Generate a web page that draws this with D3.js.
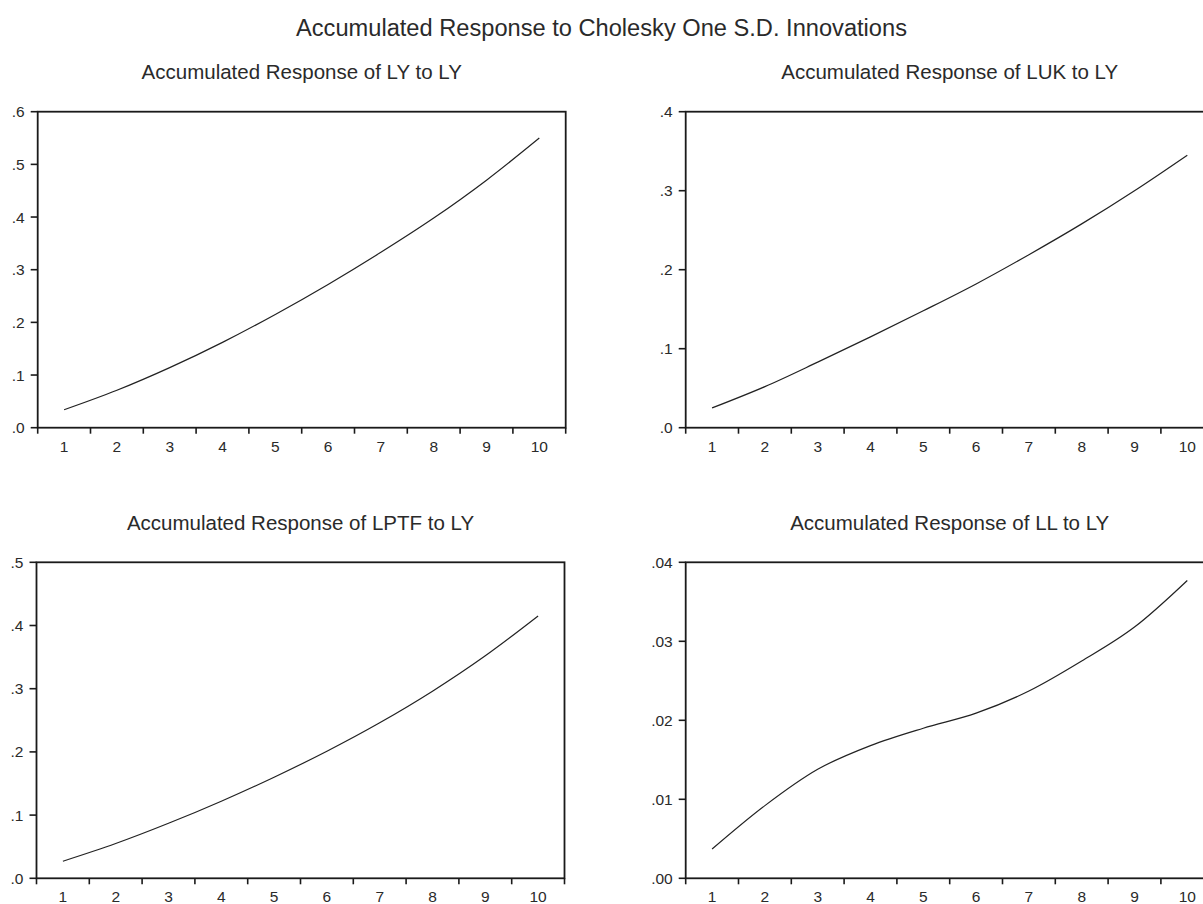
<!DOCTYPE html>
<html>
<head>
<meta charset="utf-8">
<script src="https://cdn.jsdelivr.net/npm/d3@7"></script>
<style>
  html, body { margin: 0; padding: 0; background: #fff; }
  svg { display: block; }
  text { font-family: "Liberation Sans", Arial, sans-serif; fill: #2a2a2a; }
</style>
</head>
<body>
<svg id="chart" width="1203" height="904"></svg>
<script>
// ---------- data ----------
const mainTitle = "Accumulated Response to Cholesky One S.D. Innovations";
const periods = [1, 2, 3, 4, 5, 6, 7, 8, 9, 10];

const titleLY   = "Accumulated Response of LY to LY";
const titleLUK  = "Accumulated Response of LUK to LY";
const titleLPTF = "Accumulated Response of LPTF to LY";
const titleLL   = "Accumulated Response of LL to LY";

const lyToLy   = [0.034, 0.071, 0.114, 0.162, 0.215, 0.272, 0.333, 0.398, 0.470, 0.550];
const lukToLy  = [0.025, 0.052, 0.083, 0.115, 0.148, 0.182, 0.219, 0.258, 0.300, 0.345];
const lptfToLy = [0.027, 0.055, 0.087, 0.122, 0.160, 0.201, 0.246, 0.296, 0.352, 0.415];
const llToLy   = [0.0037, 0.0092, 0.0138, 0.0168, 0.0190, 0.0209, 0.0237, 0.0275, 0.0318, 0.0377];

const ticksLY   = [0, 0.1, 0.2, 0.3, 0.4, 0.5, 0.6];
const ticksLUK  = [0, 0.1, 0.2, 0.3, 0.4];
const ticksLPTF = [0, 0.1, 0.2, 0.3, 0.4, 0.5];
const ticksLL   = [0, 0.01, 0.02, 0.03, 0.04];

// ---------- layout ----------
const panelW = 528, panelH = 316;
const panels = [
  { title: titleLY,   values: lyToLy,   ticks: ticksLY,   dec: 1, left: 37.7,  top: 111.7 },
  { title: titleLUK,  values: lukToLy,  ticks: ticksLUK,  dec: 1, left: 685.7, top: 111.7 },
  { title: titleLPTF, values: lptfToLy, ticks: ticksLPTF, dec: 1, left: 36.5,  top: 562.3 },
  { title: titleLL,   values: llToLy,   ticks: ticksLL,   dec: 2, left: 685.7, top: 562.3 }
];

const svg = d3.select("#chart");

svg.append("text")
  .attr("x", 601.5).attr("y", 36)
  .attr("text-anchor", "middle")
  .attr("font-size", 23)
  .attr("textLength", 611)
  .attr("lengthAdjust", "spacingAndGlyphs")
  .text(mainTitle);

const lineColor = "#1a1a1a";

panels.forEach(p => {
  const g = svg.append("g");
  const x = d3.scaleBand().domain(periods).range([p.left, p.left + panelW]);
  const yMax = p.ticks[p.ticks.length - 1];
  const y = d3.scaleLinear().domain([0, yMax]).range([p.top + panelH, p.top]);
  const fmt = v => d3.format("." + p.dec + "f")(v).replace(/^0/, "");

  // title
  g.append("text")
    .attr("x", p.left + panelW / 2).attr("y", p.top - 32.7)
    .attr("text-anchor", "middle")
    .attr("font-size", 20.5)
    .text(p.title);

  // frame
  g.append("rect")
    .attr("x", x.range()[0]).attr("y", y(yMax))
    .attr("width", x.range()[1] - x.range()[0])
    .attr("height", y(0) - y(yMax))
    .attr("fill", "none")
    .attr("stroke", lineColor)
    .attr("stroke-width", 1.8);

  // y ticks & labels
  p.ticks.forEach(t => {
    g.append("line")
      .attr("x1", p.left - 7).attr("x2", p.left)
      .attr("y1", y(t)).attr("y2", y(t))
      .attr("stroke", lineColor).attr("stroke-width", 1.6);
    g.append("text")
      .attr("x", p.left - 13).attr("y", y(t))
      .attr("dy", "0.36em")
      .attr("text-anchor", "end")
      .attr("font-size", 15.5)
      .text(fmt(t));
  });

  // x ticks at band boundaries
  const bounds = periods.map(d => x(d)).concat([x(periods[periods.length - 1]) + x.bandwidth()]);
  bounds.forEach(b => {
    g.append("line")
      .attr("x1", b).attr("x2", b)
      .attr("y1", y(0)).attr("y2", y(0) + 6)
      .attr("stroke", lineColor).attr("stroke-width", 1.6);
  });
  periods.forEach(d => {
    g.append("text")
      .attr("x", x(d) + x.bandwidth() / 2).attr("y", y(0) + 24)
      .attr("text-anchor", "middle")
      .attr("font-size", 15.5)
      .text(d);
  });

  // curve
  const line = d3.line()
    .x((v, i) => x(periods[i]) + x.bandwidth() / 2)
    .y(v => y(v))
    .curve(d3.curveMonotoneX);
  g.append("path")
    .attr("d", line(p.values))
    .attr("fill", "none")
    .attr("stroke", "#222")
    .attr("stroke-width", 1.2);
});
</script>
</body>
</html>
